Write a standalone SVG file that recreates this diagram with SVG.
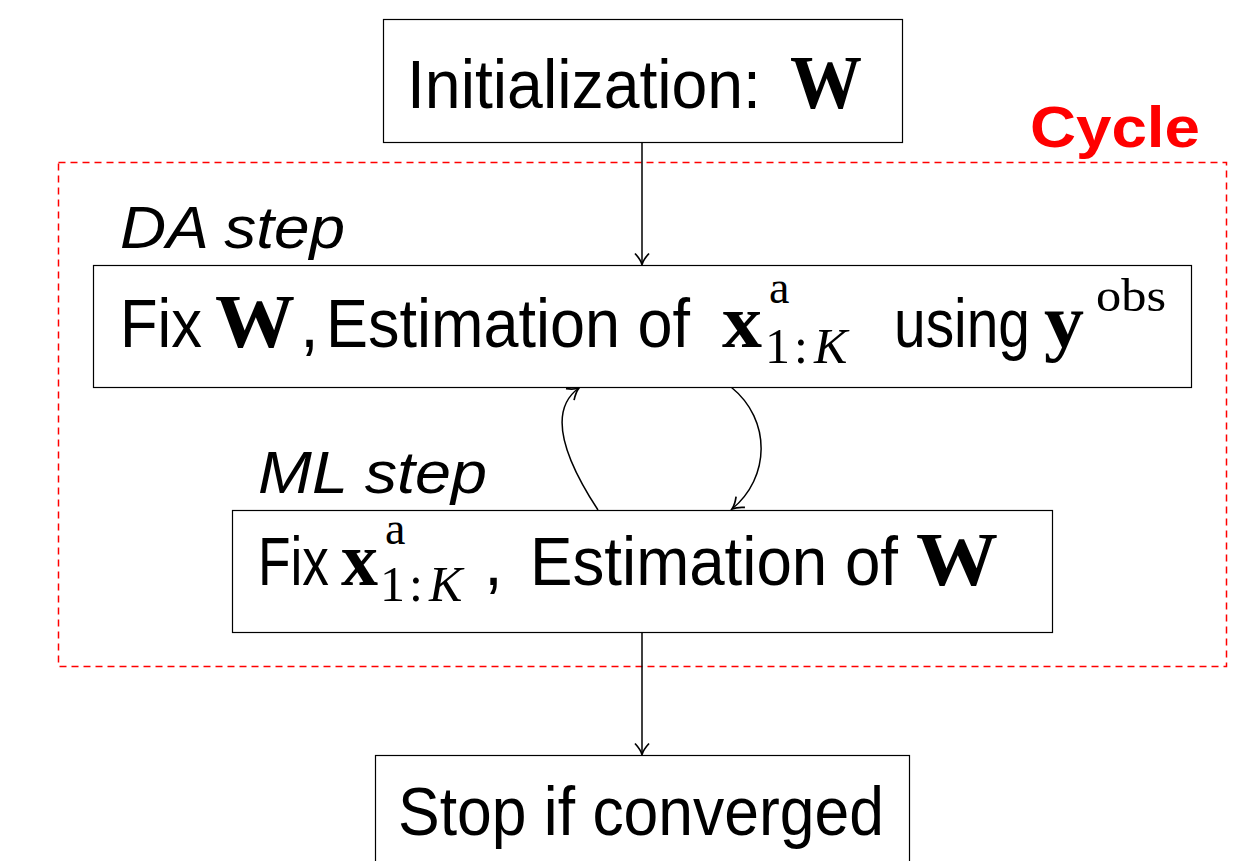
<svg xmlns="http://www.w3.org/2000/svg" width="1256" height="861" viewBox="0 0 1256 861">
<defs>
<style>
.box{fill:#fff;stroke:#000;stroke-width:1.2}
.t{font-family:"Liberation Sans",Arial,sans-serif;font-size:68px;fill:#000}
.m{font-family:"Liberation Serif","Times New Roman",serif;font-weight:bold;font-size:76px;fill:#000}
.mr{font-family:"Liberation Serif","Times New Roman",serif;font-size:46px;fill:#000}
.sub{font-family:"Liberation Serif","Times New Roman",serif;font-size:50px;fill:#000}
.mi{font-style:italic}
.lab{font-family:"Liberation Sans",Arial,sans-serif;font-style:italic;font-size:60px;fill:#000}
.conn{fill:none;stroke:#000;stroke-width:1.5}
</style>
<marker id="arr" viewBox="0 0 18 18" refX="14" refY="9" markerWidth="18" markerHeight="18" markerUnits="userSpaceOnUse" orient="auto">
<path d="M3,2 Q9,7.5 14,9 Q9,10.5 3,16" fill="none" stroke="#000" stroke-width="1.7"/>
</marker>
</defs>
<rect width="1256" height="861" fill="#fff"/>
<g id="cycle">
<rect x="58.5" y="162.5" width="1168" height="504" fill="none" stroke="#f00" stroke-width="1.5" stroke-dasharray="7,5"/>
<text x="1030" y="147" font-family="'Liberation Sans',Arial,sans-serif" font-weight="bold" font-size="58" fill="#f00" textLength="170" lengthAdjust="spacingAndGlyphs">Cycle</text>
</g>
<g id="connectors">
<path class="conn" d="M642,142 V264.5" marker-end="url(#arr)"/>
<path class="conn" d="M642,632 V754.5" marker-end="url(#arr)"/>
<path class="conn" d="M598,510 C562,455 548,410 579,388" marker-end="url(#arr)"/>
<path class="conn" d="M731,387 C772,420 770,478 732,509" marker-end="url(#arr)"/>
</g>
<g id="init">
<rect class="box" x="383.5" y="19.5" width="519" height="123"/>
<text class="t" x="407" y="108" textLength="354" lengthAdjust="spacingAndGlyphs">Initialization:</text>
<text class="m" x="790" y="108" textLength="72" lengthAdjust="spacingAndGlyphs">W</text>
</g>
<g id="da-label">
<text class="lab" x="120" y="248" textLength="225" lengthAdjust="spacingAndGlyphs">DA step</text>
</g>
<g id="da">
<rect class="box" x="93.5" y="265.5" width="1098" height="122"/>
<text class="t" x="120" y="347" textLength="82" lengthAdjust="spacingAndGlyphs">Fix</text>
<text class="m" x="215" y="347" textLength="80" lengthAdjust="spacingAndGlyphs">W</text>
<text class="t" x="300" y="347">,</text>
<text class="t" x="326" y="347" textLength="364" lengthAdjust="spacingAndGlyphs">Estimation of</text>
<text class="m" x="722" y="347" textLength="40" lengthAdjust="spacingAndGlyphs">x</text>
<text class="mr" x="769" y="303">a</text>
<text class="sub" x="765" y="363">1<tspan dx="4">:</tspan><tspan class="mi" dx="6">K</tspan></text>
<text class="t" x="894" y="347" textLength="136" lengthAdjust="spacingAndGlyphs">using</text>
<text class="m" x="1044" y="347" textLength="40" lengthAdjust="spacingAndGlyphs">y</text>
<text class="mr" x="1096" y="311" textLength="70" lengthAdjust="spacingAndGlyphs">obs</text>
</g>
<g id="ml-label">
<text class="lab" x="258" y="493" textLength="229" lengthAdjust="spacingAndGlyphs">ML step</text>
</g>
<g id="ml">
<rect class="box" x="232.5" y="510.5" width="820" height="122"/>
<text class="t" x="258" y="585" textLength="71" lengthAdjust="spacingAndGlyphs">Fix</text>
<text class="m" x="341" y="585" textLength="37" lengthAdjust="spacingAndGlyphs">x</text>
<text class="mr" x="385" y="544">a</text>
<text class="sub" x="380" y="601">1<tspan dx="4">:</tspan><tspan class="mi" dx="6">K</tspan></text>
<text class="t" x="484" y="585">,</text>
<text class="t" x="530" y="585" textLength="368" lengthAdjust="spacingAndGlyphs">Estimation of</text>
<text class="m" x="916" y="585" textLength="82" lengthAdjust="spacingAndGlyphs">W</text>
</g>
<g id="stop">
<rect class="box" x="375.5" y="755.5" width="534" height="120"/>
<text class="t" x="398" y="835" textLength="486" lengthAdjust="spacingAndGlyphs">Stop if converged</text>
</g>
</svg>
